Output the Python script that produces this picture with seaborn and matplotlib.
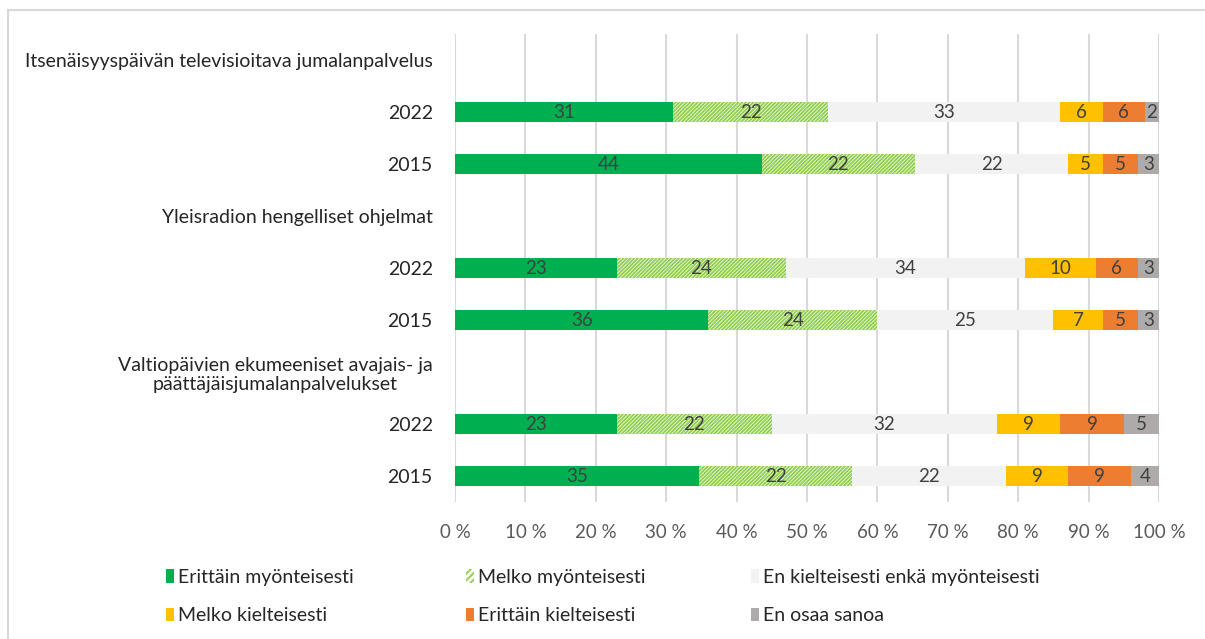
import numpy as np
import pandas as pd
import matplotlib.pyplot as plt
import matplotlib.patches as patches
import seaborn as sns

# rows, top to bottom (headers carry no bars)
row_labels = ['Itsenäisyyspäivän televisioitava jumalanpalvelus', '2022', '2015',
              'Yleisradion hengelliset ohjelmat', '2022', '2015',
              'Valtiopäivien ekumeeniset avajais- ja\npäättäjäisjumalanpalvelukset', '2022', '2015']
bar_rows = [1, 2, 4, 5, 7, 8]

categories = ['Erittäin myönteisesti', 'Melko myönteisesti',
              'En kielteisesti enkä myönteisesti', 'Melko kielteisesti',
              'Erittäin kielteisesti', 'En osaa sanoa']
colors = ['#00B050', '#92D050', '#F2F2F2', '#FFC000', '#ED7D31', '#AEAAAA']

erittain_myont = [31, 44, 23, 36, 23, 35]
melko_myont = [22, 22, 24, 24, 22, 22]
neutraali = [33, 22, 34, 25, 32, 22]
melko_kielt = [6, 5, 10, 7, 9, 9]
erittain_kielt = [6, 5, 6, 5, 9, 9]
eos = [2, 3, 3, 3, 5, 4]

values = np.array([erittain_myont, melko_myont, neutraali,
                   melko_kielt, erittain_kielt, eos], dtype=float)
shares = values / values.sum(axis=0) * 100
cum = np.cumsum(shares, axis=0)

font = 'Lato'
plt.rcParams['font.family'] = [font, 'DejaVu Sans']
plt.rcParams['hatch.linewidth'] = 1.4

fig = plt.figure(figsize=(12.05, 6.39), dpi=100)
ax = fig.add_axes([455 / 1205, 1 - 502 / 639, 704 / 1205, 468 / 639])

keys = [str(i) for i in range(len(row_labels))]
df = pd.DataFrame({'row': [keys[r] for r in bar_rows]})
for i in range(len(categories)):
    df[f'cum{i}'] = cum[i]

# stacked bars: draw cumulative totals from the last segment back
for i in reversed(range(len(categories))):
    kw = dict(color=colors[i], linewidth=0)
    if i == 1:
        kw = dict(facecolor='white', edgecolor=colors[i], hatch='/////////', linewidth=0)
    sns.barplot(data=df, y='row', x=f'cum{i}', order=keys, orient='h',
                width=0.39, saturation=1, errorbar=None, ax=ax, **kw)

for j, r in enumerate(bar_rows):
    for i in range(len(categories)):
        start = cum[i, j] - shares[i, j]
        ax.text(start + shares[i, j] / 2, r, f'{int(values[i, j])}',
                ha='center', va='center', fontsize=13.5, color='#404040')

ax.set_xlim(0, 100)
ax.set_ylim(8.5, -0.5)
ax.set_xticks(np.arange(0, 101, 10))
ax.set_xticklabels([f'{t} %' for t in range(0, 101, 10)])
ax.set_yticks(range(len(row_labels)))
ax.set_yticklabels(row_labels)
ax.set_xlabel('')
ax.set_ylabel('')
ax.tick_params(axis='x', length=0, pad=16, labelsize=13.5, labelcolor='#595959')
ax.tick_params(axis='y', length=0, pad=16, labelsize=14, labelcolor='#262626')
ax.get_yticklabels()[6].set_multialignment('center')
ax.grid(axis='x', color='#D9D9D9', linewidth=1.5)
ax.set_axisbelow(True)
for s in ax.spines.values():
    s.set_visible(False)

handles = []
for i, c in enumerate(categories):
    if i == 1:
        handles.append(patches.Patch(facecolor='white', edgecolor=colors[i],
                                     hatch='/////', linewidth=0, label=c))
    else:
        handles.append(patches.Patch(facecolor=colors[i], linewidth=0, label=c))

# one legend per column so the columns sit where the original has them
legend_x = [158, 458, 743]
for col, x in enumerate(legend_x):
    leg = fig.legend([handles[col], handles[col + 3]],
                     [categories[col], categories[col + 3]],
                     ncol=1, loc='upper left', bbox_to_anchor=(x / 1205, 1 - 561 / 639),
                     frameon=False, fontsize=14, handlelength=0.4, handleheight=0.7,
                     handletextpad=0.25, labelspacing=1.1, labelcolor='#262626',
                     borderaxespad=0, borderpad=0.4)

fig.patches.append(patches.Rectangle((8 / 1205, -0.1), 1.1, 0.1 + 1 - 10 / 639,
                                     transform=fig.transFigure, fill=False,
                                     edgecolor='#D9D9D9', linewidth=1.5))

fig.savefig('out.png', dpi=100)
